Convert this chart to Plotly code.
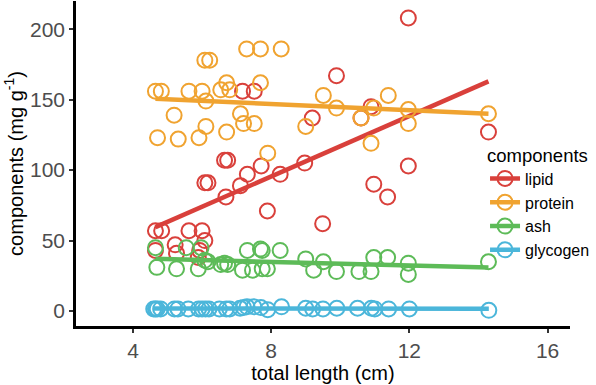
import numpy as np
import plotly.graph_objects as go

# ---- data ----
lipid_x = [4.65, 4.83, 5.62, 6.00, 6.08, 5.22, 4.65, 5.26, 5.93, 5.89,
           6.08, 6.17, 6.65, 6.74, 6.69, 7.11, 7.17, 7.31, 7.51, 7.71,
           7.89, 8.26, 8.97, 9.19, 9.49, 9.89, 10.60, 10.89, 10.97, 11.37,
           11.97, 11.97, 14.29]
lipid_y = [57, 57, 57, 57, 50, 47, 43, 41, 43, 38,
           91, 91, 107, 107, 81, 89, 156, 97, 156, 103,
           71, 97, 105, 137, 62, 167, 137, 145, 90, 81,
           103, 208, 127]

protein_x = [4.65, 4.82, 5.62, 6.00, 6.11, 5.19, 4.71, 5.31, 5.91, 6.11,
             6.71, 6.54, 6.71, 6.80, 7.11, 7.20, 7.51, 7.69, 6.08, 6.22,
             7.29, 7.69, 8.29, 7.90, 9.51, 9.89, 9.00, 10.60, 10.97, 11.39,
             11.97, 11.97, 10.89, 14.29]
protein_y = [156, 156, 156, 156, 149, 139, 123, 122, 123, 131,
             127, 157, 162, 157, 140, 133, 133, 162, 178, 178,
             186, 186, 186, 112, 153, 144, 131, 137, 144, 153,
             143, 133, 119, 140]

ash_x = [4.65, 5.54, 5.97, 7.31, 7.69, 4.69, 5.26, 5.89, 6.17, 6.54,
         6.74, 7.17, 7.46, 7.89, 7.74, 8.26, 9.00, 9.51, 9.23, 9.89,
         10.54, 10.89, 10.97, 11.37, 11.97, 11.97, 7.74, 6.08, 6.65, 14.29]
ash_y = [45, 45, 45, 43, 44, 31, 30, 30, 35, 33,
         33, 29, 29, 30, 43, 43, 37, 35, 29, 28,
         28, 28, 38, 38, 34, 26, 30, 36, 34, 35]

glycogen_x = [4.60, 4.65, 4.70, 4.80, 5.20, 5.30, 5.60, 5.90, 6.00, 6.10,
              6.20, 6.50, 6.70, 6.80, 7.10, 7.20, 7.30, 7.50, 7.70, 7.90,
              8.30, 9.00, 9.20, 9.50, 9.90, 10.50, 10.90, 11.00, 11.40, 12.00,
              14.30]
glycogen_y = [1.5, 1.5, 1.5, 1.5, 1.5, 1.5, 1.5, 1.5, 1.5, 1.5,
              1.5, 1.5, 1.5, 1.5, 2.0, 2.5, 3.0, 3.0, 2.5, 1.0,
              3.0, 2.0, 1.5, 1.5, 2.0, 2.0, 2.0, 1.5, 1.5, 1.5,
              0.5]

components = ["lipid", "protein", "ash", "glycogen"]
colors = ["#D9403B", "#F0A330", "#5DBB58", "#4BB6DA"]
xs = [lipid_x, protein_x, ash_x, glycogen_x]
ys = [lipid_y, protein_y, ash_y, glycogen_y]

x_ticks = [4, 8, 12, 16]
y_ticks = [0, 50, 100, 150, 200]

fig = go.Figure()
for name, col, x, y in zip(components, colors, xs, ys):
    x = np.array(x, dtype=float)
    y = np.array(y, dtype=float)
    slope, intercept = np.polyfit(x, y, 1)
    xl = np.array([x.min(), x.max()])
    fig.add_trace(go.Scatter(
        x=x, y=y, mode="markers", name=name, legendgroup=name,
        showlegend=False, cliponaxis=False,
        marker=dict(symbol="circle-open", size=15, color=col,
                    line=dict(width=2, color=col)),
    ))
    fig.add_trace(go.Scatter(
        x=xl, y=slope * xl + intercept, mode="lines", name=name,
        legendgroup=name, showlegend=False,
        line=dict(color=col, width=4.5),
    ))
    # legend entry (circle + line symbol)
    fig.add_trace(go.Scatter(
        x=[None], y=[None], mode="lines+markers", name=name,
        legendgroup=name, showlegend=True,
        line=dict(color=col, width=4.5),
        marker=dict(symbol="circle-open", size=15, color=col,
                    line=dict(width=2, color=col)),
    ))

fig.update_layout(
    width=596, height=385,
    margin=dict(l=76, r=21, t=1, b=59),
    paper_bgcolor="white", plot_bgcolor="white",
    font=dict(family="Liberation Sans, Arial, sans-serif", color="black"),
    showlegend=True,
    legend=dict(
        title=dict(text="components", font=dict(size=18.5, color="black")),
        font=dict(size=16, color="black"),
        x=0.828, y=0.58, xanchor="left", yanchor="top",
        bgcolor="rgba(0,0,0,0)", tracegroupgap=0, itemwidth=30,
    ),
    xaxis=dict(
        range=[2.35, 16.65], tickvals=x_ticks, ticktext=[str(v) for v in x_ticks],
        showgrid=False, zeroline=False, showline=True, linecolor="black",
        linewidth=2.5, ticks="outside", ticklen=4, tickwidth=1.5,
        tickcolor="#333333", tickfont=dict(size=21, color="#4D4D4D"),
        title=dict(text="total length (cm)", font=dict(size=20, color="black"),
                   standoff=2),
    ),
    yaxis=dict(
        range=[-10.6, 220], tickvals=y_ticks, ticktext=[str(v) for v in y_ticks],
        showgrid=False, zeroline=False, showline=True, linecolor="black",
        linewidth=2.5, ticks="outside", ticklen=4, tickwidth=1.5,
        tickcolor="#333333", tickfont=dict(size=21, color="#4D4D4D"),
        title=dict(text="components (mg g<sup>-1</sup>)",
                   font=dict(size=20, color="black"), standoff=2),
    ),
)

fig.write_html(
    "out.html",
    config={"displayModeBar": False},
    post_script="document.body.style.margin='0';document.body.style.padding='0';",
)
